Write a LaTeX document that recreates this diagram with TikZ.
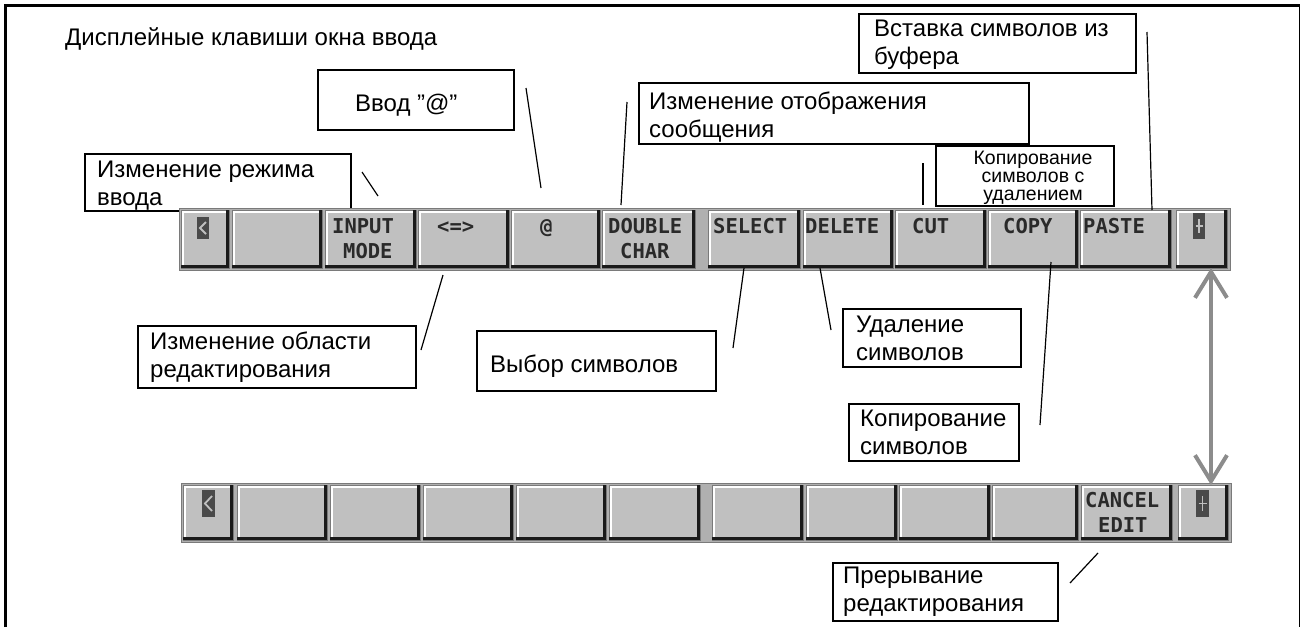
\documentclass[tikz,border=0pt]{standalone}
\usepackage{fontspec}
\setmainfont{Liberation Sans}
\newfontfamily\keyfont{DejaVu Sans Mono}
\usetikzlibrary{arrows.meta}
\definecolor{keygray}{HTML}{C0C0C0}
\definecolor{bargray}{HTML}{B0B0B0}
\definecolor{keyedge}{HTML}{7A7A7A}
\definecolor{keyshadow}{HTML}{1A1A1A}
\definecolor{icondark}{HTML}{4A4A4A}
\definecolor{arrowgray}{HTML}{8C8C8C}
\definecolor{keytext}{HTML}{2A2A2A}
\tikzset{
 keyface/.style={fill=keygray, draw=keyedge, line width=0.6pt, inner sep=0pt, outer sep=0pt},
 keyhi/.style={draw=white, line width=2pt},
 keysh/.style={draw=keyshadow, line width=3pt},
 keylbl/.style={font=\keyfont\bfseries\fontsize{20.5}{25}\selectfont, text=keytext, inner sep=0pt, anchor=base west},
 lbox/.style={draw=black, line width=1.6pt, fill=white, inner sep=0pt, anchor=north west},
 ltext/.style={font=\fontsize{24}{28}\selectfont, inner sep=0pt, anchor=base west, align=left},
 stext/.style={font=\fontsize{19.5}{18}\selectfont, inner sep=0pt, anchor=base, align=center},
 lead/.style={draw=black, line width=1.2pt},
 garrow/.style={draw=arrowgray, line width=4pt, {Straight Barb[length=26pt,width=32pt]}-{Straight Barb[length=26pt,width=32pt]}},
 icon/.style={fill=icondark, inner sep=0pt, outer sep=0pt, anchor=north west},
 icong/.style={draw=keygray, line width=1.8pt},
 barbg/.style={fill=bargray, draw=keyedge, line width=0.6pt, inner sep=0pt, outer sep=0pt, anchor=north west},
}
\newcommand\fkey[5]{%
  \node[keyface, anchor=north west, minimum width={#4pt-#2pt}, minimum height={#5pt-#3pt}] (#1) at (#2,#3) {};
  \draw[keyhi] ([shift={(1.5pt,2pt)}]#1.south west) -- ([shift={(1.5pt,-1.5pt)}]#1.north west) -- ([shift={(-3pt,-1.5pt)}]#1.north east);
  \draw[keysh] ([shift={(-1.5pt,0pt)}]#1.north east) -- ([shift={(-1.5pt,1.5pt)}]#1.south east) -- ([shift={(0pt,1.5pt)}]#1.south west);
}
\begin{document}
\begin{tikzpicture}[x=1pt,y=-1pt]
\useasboundingbox (0,0) rectangle (1302,627);
% frame
\coordinate (fBL) at (5.5,627);
\coordinate (fTL) at (5.5,5);
\coordinate (fTR) at (1299.5,5);
\coordinate (fBR) at (1299.5,627);
\draw[line width=3pt] (fBL) -- (fTL) -- (fTR);
\draw[line width=1.6pt] (fTR) -- (fBR);

% title
\node[ltext] (title) at (65,45) {Дисплейные клавиши окна ввода};

% label boxes (multi-line texts are anchored at the baseline of their last line)
\node[lbox, minimum width=196pt, minimum height=60pt] (bAt) at (317,69) {};
\node[ltext] (tAt) at (355,111) {Ввод ”@”};

\node[lbox, minimum width=266pt, minimum height=57pt] (bMode) at (84,153) {};
\node[ltext] (tMode) at (97,205) {Изменение режима\\ввода};

\node[lbox, minimum width=390pt, minimum height=61pt] (bDisp) at (638,82) {};
\node[ltext] (tDisp) at (649,137) {Изменение отображения\\сообщения};

\node[lbox, minimum width=277pt, minimum height=59pt] (bPaste) at (858,13) {};
\node[ltext] (tPaste) at (874,64) {Вставка символов из\\буфера};

\node[lbox, minimum width=178pt, minimum height=60pt] (bCut) at (935,145) {};
\node[stext] (tCut) at (1033,200) {Копирование\\символов с\\удалением};

\node[lbox, minimum width=278pt, minimum height=62pt] (bArea) at (137,325) {};
\node[ltext] (tArea) at (150,377) {Изменение области\\редактирования};

\node[lbox, minimum width=239pt, minimum height=60pt] (bSel) at (476,330) {};
\node[ltext] (tSel) at (490,372) {Выбор символов};

\node[lbox, minimum width=178pt, minimum height=58pt] (bDel) at (842,308) {};
\node[ltext] (tDel) at (856,360) {Удаление\\символов};

\node[lbox, minimum width=170pt, minimum height=57pt] (bCopy) at (848,403) {};
\node[ltext] (tCopy) at (860,454) {Копирование\\символов};

\node[lbox, minimum width=225pt, minimum height=58pt] (bCancel) at (832,562) {};
\node[ltext] (tCancel) at (843,611) {Прерывание\\редактирования};

% upper bar
\node[barbg, minimum width=1051pt, minimum height=62pt] (barT) at (179,208) {};
\fkey{tL}{181}{210}{229}{268}
\fkey{t1}{232}{210}{322}{268}
\fkey{t2}{325}{210}{416}{268}
\fkey{t3}{418}{210}{509}{268}
\fkey{t4}{511}{210}{600}{268}
\fkey{t5}{602}{210}{695}{268}
\fkey{t6}{708}{210}{800}{268}
\fkey{t7}{803}{210}{893}{268}
\fkey{t8}{895}{210}{986}{268}
\fkey{t9}{988}{210}{1078}{268}
\fkey{t10}{1080}{210}{1171}{268}
\fkey{tR}{1176}{210}{1227}{268}

\node[keylbl] (kInput) at (332,233) {INPUT};
\node[keylbl] (kMode) at (343,258) {MODE};
\node[keylbl] (kArr) at (437,233) {<=>};
\node[keylbl] (kAt) at (540,233) {@};
\node[keylbl] (kDouble) at (608,233) {DOUBLE};
\node[keylbl] (kChar) at (620,258) {CHAR};
\node[keylbl] (kSelect) at (713,233) {SELECT};
\node[keylbl] (kDelete) at (805,233) {DELETE};
\node[keylbl] (kCut) at (912,233) {CUT};
\node[keylbl] (kCopy) at (1003,233) {COPY};
\node[keylbl] (kPaste) at (1083,233) {PASTE};

% icons upper
\node[icon, minimum width=12pt, minimum height=22pt] (iLT) at (197,217) {};
\draw[icong] ([shift={(-3pt,-5pt)}]iLT.north east) -- ([shift={(3pt,0pt)}]iLT.west) -- ([shift={(-3pt,5pt)}]iLT.south east);
\node[icon, minimum width=12pt, minimum height=26pt] (iRT) at (1193,213) {};
\draw[icong] ([yshift=-6pt]iRT.north) -- ([yshift=6pt]iRT.south);
\draw[icong] ([xshift=2.5pt]iRT.west) -- ([xshift=-2.5pt]iRT.east);

% lower bar
\node[barbg, minimum width=1050pt, minimum height=59pt] (barB) at (181,483) {};
\fkey{bL}{183}{485}{233}{540}
\fkey{b1}{237}{485}{327}{540}
\fkey{b2}{330}{485}{420}{540}
\fkey{b3}{423}{485}{513}{540}
\fkey{b4}{516}{485}{606}{540}
\fkey{b5}{609}{485}{700}{540}
\fkey{b6}{712}{485}{803}{540}
\fkey{b7}{806}{485}{897}{540}
\fkey{b8}{899}{485}{990}{540}
\fkey{b9}{992}{485}{1078}{540}
\fkey{b10}{1081}{485}{1172}{540}
\fkey{bR}{1178}{485}{1228}{540}

\node[keylbl] (kCancel) at (1085,507) {CANCEL};
\node[keylbl] (kEdit) at (1098,532) {EDIT};

\node[icon, minimum width=13pt, minimum height=27pt] (iLB) at (202,490) {};
\draw[icong] ([shift={(-3pt,-6pt)}]iLB.north east) -- ([shift={(3pt,0pt)}]iLB.west) -- ([shift={(-3pt,6pt)}]iLB.south east);
\node[icon, minimum width=13pt, minimum height=27pt] (iRB) at (1196,490) {};
\draw[icong] ([yshift=-6pt]iRB.north) -- ([yshift=6pt]iRB.south);
\draw[icong] ([xshift=2.5pt]iRB.west) -- ([xshift=-2.5pt]iRB.east);

% double arrow between the two bars
\draw[garrow] ([xshift=9.5pt]tR.south) -- ([xshift=8pt]bR.north);

% leader lines
\coordinate (lModeA) at (362,172); \coordinate (lModeB) at (378,196);
\draw[lead] (lModeA) -- (lModeB);
\coordinate (lAtA) at (526,88); \coordinate (lAtB) at (541,188);
\draw[lead] (lAtA) -- (lAtB);
\coordinate (lDispA) at (627,102); \coordinate (lDispB) at (621,205);
\draw[lead] (lDispA) -- (lDispB);
\coordinate (lPasteA) at (1147,32); \coordinate (lPasteB) at (1152,210);
\draw[lead] (lPasteA) -- (lPasteB);
\coordinate (lCutA) at (923,163); \coordinate (lCutB) at (923,205);
\draw[lead] (lCutA) -- (lCutB);
\coordinate (lAreaA) at (443,275); \coordinate (lAreaB) at (421,350);
\draw[lead] (lAreaA) -- (lAreaB);
\coordinate (lSelA) at (744,268); \coordinate (lSelB) at (733,348);
\draw[lead] (lSelA) -- (lSelB);
\coordinate (lDelA) at (820,268); \coordinate (lDelB) at (831,330);
\draw[lead] (lDelA) -- (lDelB);
\coordinate (lCopyA) at (1051,262); \coordinate (lCopyB) at (1040,425);
\draw[lead] (lCopyA) -- (lCopyB);
\coordinate (lCanA) at (1070,583); \coordinate (lCanB) at (1098,553);
\draw[lead] (lCanA) -- (lCanB);
\end{tikzpicture}
\end{document}
